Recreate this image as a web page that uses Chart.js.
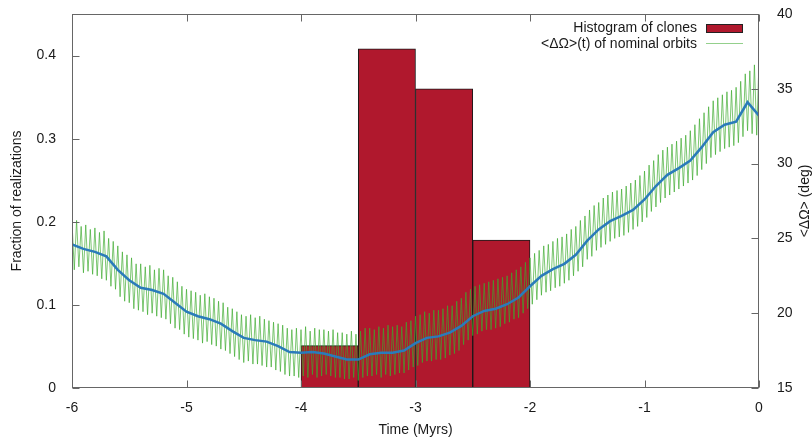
<!DOCTYPE html>
<html>
<head>
<meta charset="utf-8">
<script src="https://cdn.jsdelivr.net/npm/chart.js@4.4.1/dist/chart.umd.min.js"></script>
<style>
html,body{margin:0;padding:0;background:#fff;}
canvas{display:block;}
</style>
</head>
<body>
<canvas id="c" width="812" height="438"></canvas>
<script>
// ---------- data ----------
const legendLabels = ['Histogram of clones', '<ΔΩ>(t) of nominal orbits'];
const axisTitles = { x: 'Time (Myrs)', y: 'Fraction of realizations', y2: '<ΔΩ> (deg)' };

// histogram of clones (bin start, width 0.5 Myr)
const binStarts = [-4.5, -4.0, -3.5, -3.0, -2.5, -2.0];
const binWidth = 0.5;
const binFractions = [0, 0.051, 0.408, 0.360, 0.178, 0];

// smoothed <ΔΩ>(t) (blue), sampled every 0.1 Myr from -6 to 0
const meanStart = -6, meanStep = 0.1;
const meanNodeOmega = [
  24.6, 24.3, 24.1, 23.8, 22.9, 22.2, 21.7, 21.55, 21.3, 20.7,
  20.1, 19.8, 19.6, 19.3, 18.8, 18.35, 18.2, 18.1, 17.8, 17.4,
  17.35, 17.4, 17.3, 17.1, 16.9, 16.9, 17.25, 17.35, 17.35, 17.5,
  18.0, 18.35, 18.45, 18.7, 19.15, 19.8, 20.15, 20.3, 20.6, 21.05,
  21.8, 22.5, 22.95, 23.3, 23.9, 24.85, 25.6, 26.15, 26.5, 26.9,
  27.6, 28.5, 29.25, 29.7, 30.2, 31.1, 32.1, 32.6, 32.8, 34.1,
  33.2
];

// oscillating <ΔΩ>(t) of nominal orbits (green): peaks every 0.04 Myr from -6,
// troughs halfway between them
const oscStart = -6, oscStep = 0.04;
const nominalPeaks = [
  26.1, 26.2, 25.8, 25.9, 25.6,  25.7, 25.4, 25.5, 25.0, 24.8,
  24.5, 24.1, 23.9, 23.7, 23.3,  23.3, 23.1, 23.2, 22.9, 23.0,
  22.9, 22.5, 22.4, 22.1, 21.8,  21.6, 21.5, 21.4, 21.2, 21.3,
  21.1, 21.0, 20.8, 20.7, 20.4,  20.3, 20.1, 19.9, 19.8, 19.9,
  19.7, 19.8, 19.6, 19.5, 19.4,  19.3, 19.2, 19.0, 18.9, 19.0,
  18.9, 19.1, 18.8, 19.0, 18.9,  18.9, 18.8, 18.9, 18.7, 18.7,
  18.6, 18.8, 18.6, 18.8, 19.0,  19.0, 18.9, 19.1, 19.0, 19.2,
  19.1, 19.2, 19.1, 19.4, 19.5,  19.8, 19.9, 20.1, 20.0, 20.2,
  20.2, 20.3, 20.5, 20.5, 20.8,  21.0, 21.4, 21.6, 21.8, 21.9,
  22.0, 22.1, 22.2, 22.3, 22.4,  22.5, 22.7, 22.9, 23.1, 23.4,
  23.7, 24.0, 24.2, 24.5, 24.6,  24.8, 25.0, 25.1, 25.3, 25.6,
  25.8, 26.2, 26.5, 26.9, 27.2,  27.4, 27.7, 27.9, 28.1, 28.2,
  28.3, 28.5, 28.7, 28.9, 29.2,  29.5, 29.9, 30.2, 30.6, 30.9,
  31.1, 31.3, 31.5, 31.7, 31.9,  32.2, 32.6, 33.0, 33.4, 33.8,
  34.2, 34.4, 34.6, 34.8, 34.9,  35.1, 35.5, 36.0, 36.2, 36.6,
  36.9
];
const nominalTroughs = [
  22.9, 23.1, 22.7, 22.8, 22.6,  22.5, 22.3, 22.2, 21.8, 21.6,
  21.1, 20.8, 20.7, 20.3, 20.2,  20.1, 19.9, 20.0, 19.8, 19.7,
  19.6, 19.3, 19.0, 18.9, 18.6,  18.4, 18.3, 18.2, 18.0, 18.1,
  17.9, 17.8, 17.6, 17.5, 17.3,  17.1, 16.9, 16.7, 16.8, 16.6,
  16.6, 16.5, 16.4, 16.4, 16.2,  16.1, 15.9, 15.8, 15.8, 15.7,
  15.8, 15.7, 15.9, 15.7, 15.8,  15.9, 15.8, 15.7, 15.7, 15.6,
  15.6, 15.7, 15.5, 15.7, 15.8,  15.8, 15.9, 15.7, 15.9, 15.8,
  15.9, 16.0, 16.0, 16.2, 16.4,  16.5, 16.7, 16.8, 16.8, 16.9,
  16.9, 17.0, 17.2, 17.3, 17.5,  17.9, 18.2, 18.5, 18.6, 18.8,
  18.9, 18.9, 19.0, 19.1, 19.3,  19.4, 19.6, 19.7, 20.0, 20.3,
  20.6, 20.9, 21.2, 21.4, 21.5,  21.7, 21.8, 22.0, 22.2, 22.5,
  22.8, 23.1, 23.6, 23.8, 24.2,  24.4, 24.6, 24.8, 25.0, 25.1,
  25.2, 25.4, 25.6, 25.8, 26.1,  26.4, 26.8, 27.1, 27.4, 27.7,
  27.9, 28.1, 28.3, 28.5, 28.7,  28.9, 29.2, 29.6, 30.0, 30.4,
  30.6, 30.8, 31.0, 31.1, 31.2,  31.4, 31.8, 32.2, 32.0, 31.9
];

// axis ranges / ticks
const xRange = [-6, 0], xStep = 1;
const yRange = [0, 0.45], yStep = 0.1;
const y2Range = [15, 40], y2Step = 5;

// ---------- build library data ----------
const barPoints = binStarts.map((s, i) => ({ x: s + binWidth / 2, y: binFractions[i] }));
const meanPoints = meanNodeOmega.map((v, i) => ({ x: +(meanStart + i * meanStep).toFixed(3), y: v }));
const zigPoints = [];
nominalPeaks.forEach((v, i) => {
  zigPoints.push({ x: +(oscStart + i * oscStep).toFixed(3), y: v });
  if (i < nominalTroughs.length) {
    zigPoints.push({ x: +(oscStart + i * oscStep + oscStep / 2).toFixed(3), y: nominalTroughs[i] });
  }
});

const FONT = '"Liberation Sans", Arial, Helvetica, sans-serif';
const TEXT = '#1a1a1a';
const BAR_FILL = '#b0182d';
const GREEN = 'rgba(60,170,45,0.75)';
const BLUE = '#2a7bba';

Chart.defaults.font.family = FONT;
Chart.defaults.font.size = 14;
Chart.defaults.color = TEXT;

const decor = {
  id: 'decor',
  afterDatasetsDraw(chart) {
    const { ctx, chartArea: a, scales } = chart;
    const sx = scales.x, sy = scales.y, sy2 = scales.y2;
    ctx.save();

    // zero-height histogram bins drawn as a flat line
    const bm = chart.getDatasetMeta(2);
    ctx.strokeStyle = '#222';
    ctx.lineWidth = 1;
    bm.data.forEach((el, i) => {
      if (binFractions[i] === 0) {
        const p = el.getProps(['x', 'width', 'base'], true);
        const yy = Math.round(p.base) - 0.5;
        ctx.beginPath();
        ctx.moveTo(p.x - p.width / 2, yy);
        ctx.lineTo(p.x + p.width / 2, yy);
        ctx.stroke();
      }
    });

    // frame
    ctx.strokeStyle = '#666';
    const L = a.left + 0.5, R = a.right - 0.5, T = a.top + 0.5, B = a.bottom - 0.5;
    ctx.strokeRect(L, T, R - L, B - T);

    // inward ticks
    const tl = 7;
    ctx.beginPath();
    sx.ticks.forEach(t => {
      const px = Math.round(sx.getPixelForValue(t.value)) + 0.5;
      ctx.moveTo(px, B); ctx.lineTo(px, B - tl);
      ctx.moveTo(px, T); ctx.lineTo(px, T + tl);
    });
    sy.ticks.forEach(t => {
      const py = Math.round(sy.getPixelForValue(t.value)) + 0.5;
      ctx.moveTo(L, py); ctx.lineTo(L + tl, py);
    });
    sy2.ticks.forEach(t => {
      const py = Math.round(sy2.getPixelForValue(t.value)) + 0.5;
      ctx.moveTo(R, py); ctx.lineTo(R - tl, py);
    });
    ctx.stroke();

    // legend (gnuplot style: text right-aligned, sample on the right)
    ctx.font = '14px ' + FONT;
    ctx.fillStyle = TEXT;
    ctx.textAlign = 'right';
    ctx.textBaseline = 'middle';
    ctx.fillText(legendLabels[0], 697, 28);
    ctx.fillText(legendLabels[1], 697, 44);
    ctx.fillStyle = BAR_FILL;
    ctx.fillRect(706, 24, 37, 9);
    ctx.strokeStyle = '#222';
    ctx.strokeRect(706.5, 24.5, 36, 8);
    ctx.strokeStyle = 'rgba(60,170,45,0.55)';
    ctx.beginPath();
    ctx.moveTo(706, 43.5); ctx.lineTo(743, 43.5);
    ctx.stroke();

    // axis titles
    ctx.fillStyle = TEXT;
    ctx.textAlign = 'center';
    ctx.textBaseline = 'middle';
    ctx.fillText(axisTitles.x, (a.left + a.right) / 2, 430);
    ctx.save();
    ctx.translate(17.5, (a.top + a.bottom) / 2);
    ctx.rotate(-Math.PI / 2);
    ctx.fillText(axisTitles.y, 0, 0);
    ctx.restore();
    ctx.save();
    ctx.translate(805, (a.top + a.bottom) / 2);
    ctx.rotate(-Math.PI / 2);
    ctx.fillText(axisTitles.y2, 0, 0);
    ctx.restore();

    ctx.restore();
  }
};

function zeroPad(s) { s.paddingTop = 0; s.paddingBottom = 0; s.paddingLeft = 0; s.paddingRight = 0; }

new Chart(document.getElementById('c'), {
  type: 'bar',
  data: {
    datasets: [
      {
        type: 'line', label: 'mean', data: meanPoints, yAxisID: 'y2',
        borderColor: BLUE, borderWidth: 2.5, pointRadius: 0, tension: 0, fill: false, order: 0
      },
      {
        type: 'line', label: legendLabels[1], data: zigPoints, yAxisID: 'y2',
        borderColor: GREEN, borderWidth: 0.9, pointRadius: 0, tension: 0, fill: false, order: 1
      },
      {
        type: 'bar', label: legendLabels[0], data: barPoints, yAxisID: 'y',
        backgroundColor: BAR_FILL, borderColor: '#1a1a1a', borderWidth: 1, borderSkipped: false,
        barPercentage: 1, categoryPercentage: 1, order: 2
      }
    ]
  },
  options: {
    responsive: false,
    animation: false,
    events: [],
    layout: { padding: { top: 14, left: 0, right: 0, bottom: 0 } },
    plugins: { legend: { display: false }, tooltip: { enabled: false } },
    scales: {
      x: {
        type: 'linear', min: xRange[0], max: xRange[1], offset: false,
        grid: { display: false }, border: { display: false },
        ticks: { stepSize: xStep, padding: 4, color: TEXT, font: { size: 14 }, maxRotation: 0 },
        afterFit(s) { s.height = 50; zeroPad(s); }
      },
      y: {
        type: 'linear', position: 'left', min: yRange[0], max: yRange[1],
        grid: { display: false }, border: { display: false },
        ticks: { stepSize: yStep, includeBounds: false, padding: 8, color: TEXT, font: { size: 14 } },
        afterFit(s) { s.width = 72; zeroPad(s); }
      },
      y2: {
        type: 'linear', position: 'right', min: y2Range[0], max: y2Range[1],
        grid: { display: false }, border: { display: false },
        ticks: { stepSize: y2Step, padding: 10, color: TEXT, font: { size: 14 } },
        afterFit(s) { s.width = 53; zeroPad(s); }
      }
    }
  },
  plugins: [decor]
});
</script>
</body>
</html>
